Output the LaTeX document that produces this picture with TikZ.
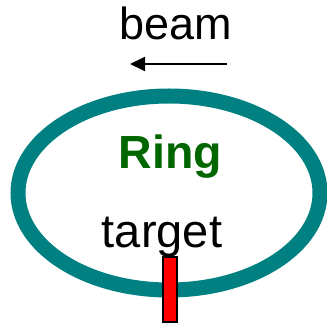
\documentclass[tikz,border=0pt]{standalone}
\usepackage{fontspec}
\setmainfont{Liberation Sans}
\usetikzlibrary{arrows.meta}
\definecolor{ringteal}{RGB}{0,128,128}
\definecolor{ringgreen}{RGB}{0,102,0}
\tikzset{
  lbl/.style={inner sep=0pt, anchor=base},
  beamarrow/.style={line width=2pt, -{Triangle[length=15pt,width=14pt]}},
  ringline/.style={draw=ringteal, line width=15pt},
  targetbox/.style={draw=black, fill=red, line width=2pt}
}
\begin{document}
\begin{tikzpicture}[x=1pt,y=1pt]
\useasboundingbox (0,0) rectangle (327,324);
\draw[ringline] (169,131) ellipse [x radius=151, y radius=97];
\node[lbl] (beam) at (175.5,284) {\fontsize{45}{54}\selectfont beam};
\coordinate (as) at (227,260);
\coordinate (ae) at (130,260);
\draw[beamarrow] (as) -- (ae);
\node[lbl, text=ringgreen] (ring) at (170.5,155) {\fontsize{46.5}{55}\selectfont\bfseries Ring};
\node[lbl] (target) at (162,76) {\fontsize{47}{56}\selectfont target};
\draw[targetbox] (163,2) rectangle (177,67);
\end{tikzpicture}
\end{document}
